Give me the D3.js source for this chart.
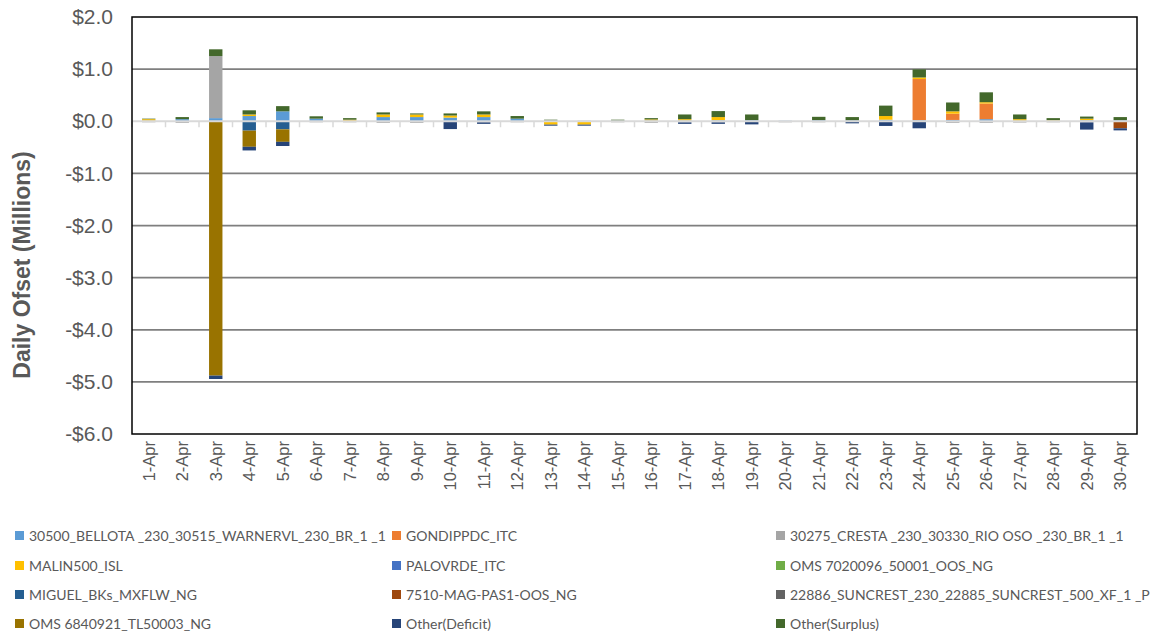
<!DOCTYPE html>
<html>
<head>
<meta charset="utf-8">
<script src="https://cdn.jsdelivr.net/npm/d3@7"></script>
<style>
  html, body { margin: 0; padding: 0; background: #ffffff; }
  svg { display: block; }
</style>
</head>
<body>
<svg id="chart" width="1151" height="635"></svg>
<script>
// ---------- DATA ----------
const dates = ["1-Apr","2-Apr","3-Apr","4-Apr","5-Apr","6-Apr","7-Apr","8-Apr","9-Apr","10-Apr",
  "11-Apr","12-Apr","13-Apr","14-Apr","15-Apr","16-Apr","17-Apr","18-Apr","19-Apr","20-Apr",
  "21-Apr","22-Apr","23-Apr","24-Apr","25-Apr","26-Apr","27-Apr","28-Apr","29-Apr","30-Apr"];

const seriesNames = [
  "30500_BELLOTA _230_30515_WARNERVL_230_BR_1 _1",
  "GONDIPPDC_ITC",
  "30275_CRESTA  _230_30330_RIO OSO _230_BR_1 _1",
  "MALIN500_ISL",
  "PALOVRDE_ITC",
  "OMS 7020096_50001_OOS_NG",
  "MIGUEL_BKs_MXFLW_NG",
  "7510-MAG-PAS1-OOS_NG",
  "22886_SUNCREST_230_22885_SUNCREST_500_XF_1 _P",
  "OMS 6840921_TL50003_NG",
  "Other(Deficit)",
  "Other(Surplus)"
];

const seriesColors = ["#5B9BD5","#ED7D31","#A5A5A5","#FFC000","#4472C4","#70AD47",
  "#255E91","#9E480E","#636363","#997300","#264478","#43682B"];

// values in $ millions, one per day
const bellota   = [0.01,0.04,0.06,0.10,0.19,0.05,0,0.08,0.08,0.07, 0.08,0.05,0.01,0.01,0.01,0.015,0.015,0.02,0.02,0.01, 0.02,0.015,0.03,0.02,0.025,0.04,0.01,0.01,0.02,0.02];
const gondippdc = [0,0,0,0,0,0,0,0,0,0, 0,0,0,0,0,0,0,0,0,0, 0,0,0,0.79,0.12,0.30,0,0,0,0];
const cresta    = [-0.02,-0.03,1.19,0,0,-0.02,-0.02,-0.03,-0.03,0, -0.02,-0.02,0,0,-0.02,-0.03,-0.02,-0.02,0,-0.02, -0.02,-0.01,-0.01,0,-0.03,-0.03,-0.025,-0.02,-0.02,0];
const malin     = [0.03,0,0,0.03,0,0,0.03,0.05,0.05,0.04, 0.05,0,-0.065,-0.065,0,0.02,0.025,0.06,0,0, 0,0,0.07,0.03,0.045,0.025,0.03,0.01,0.03,0];
const palovrde  = [0,0,0,0,0,0,0,0,0,0, 0,0,0,0,0,0,0,0,0,0, 0,0,0,0,0,0,0,0,0,0];
const oms7020   = [0,0,0,0,0,0,0,0,0,0, 0,0,0,0,0,0,0,0,0,0, 0,0,0,0,0,0,0,0,0,0];
const miguel    = [0,0,0,-0.18,-0.155,0,0,0,0,0, 0,0,0,0,0,0,0,0,0,0, 0,0,0,0,0,0,0,0,0,0];
const mag7510   = [0,0,0,0,0,0,0,0,0,0, 0,0,0,0,0,0,0,0,0,0, 0,0,0,0,0,0,0,0,0,-0.135];
const suncrest  = [0,0,0,0,0,0,0,0,0,0, 0,0,0,0,0,0,0,0,0,0, 0,0,0,0,0,0,0,0,0,0];
const oms6840   = [0,0,-4.88,-0.31,-0.24,0,0,0,0,0, 0,0,0,0,0,0,0,0,0,0, 0,0,0,0,0,0,0,0,0,0];
const deficit   = [0,0,-0.065,-0.07,-0.08,0,0,0,0,-0.15, -0.03,0,-0.02,-0.02,0,0,-0.03,-0.03,-0.06,0, 0,-0.03,-0.08,-0.135,0,0,0,0,-0.14,-0.04];
const surplus   = [0.01,0.04,0.13,0.08,0.10,0.045,0.03,0.04,0.02,0.04, 0.06,0.05,0.02,0,0.02,0.025,0.09,0.115,0.11,0, 0.065,0.065,0.20,0.155,0.17,0.19,0.09,0.04,0.04,0.06];

const seriesValues = [bellota, gondippdc, cresta, malin, palovrde, oms7020, miguel, mag7510, suncrest, oms6840, deficit, surplus];

const yTicks = [2,1,0,-1,-2,-3,-4,-5,-6];
const yTitle = "Daily Ofset (Millions)";

// ---------- LAYOUT ----------
const svg = d3.select("#chart");
const plot = { left: 132, right: 1137, top: 17, bottom: 434 };
const labelColor = "#595959";

const x = d3.scaleBand().domain(dates).range([plot.left, plot.right]).paddingInner(0.6).paddingOuter(0.3);
const y = d3.scaleLinear().domain([-6, 2]).range([plot.bottom, plot.top]);

const keys = seriesNames.map((d, i) => "s" + i);
const rows = dates.map((d, j) => {
  const r = { date: d };
  keys.forEach((k, i) => { r[k] = seriesValues[i][j]; });
  return r;
});
const stacked = d3.stack().keys(keys).offset(d3.stackOffsetDiverging)(rows);

// gridlines
svg.append("g").selectAll("line")
  .data(yTicks.filter(t => t !== 0 && t !== 2 && t !== -6))
  .join("line")
  .attr("x1", plot.left).attr("x2", plot.right)
  .attr("y1", d => y(d)).attr("y2", d => y(d))
  .attr("stroke", "#7f7f7f").attr("stroke-width", 1.75);

// bars
svg.append("g").selectAll("g")
  .data(stacked)
  .join("g")
  .attr("fill", (s, i) => seriesColors[i])
  .selectAll("rect")
  .data(s => s.filter(p => p[1] - p[0] !== 0))
  .join("rect")
  .attr("x", p => x(p.data.date))
  .attr("width", x.bandwidth())
  .attr("y", p => y(Math.max(p[0], p[1])))
  .attr("height", p => Math.abs(y(p[0]) - y(p[1])));

// zero axis line and ticks between categories
svg.append("line")
  .attr("x1", plot.left).attr("x2", plot.right)
  .attr("y1", y(0)).attr("y2", y(0))
  .attr("stroke", "#d9d9d9").attr("stroke-width", 2);
const bounds = d3.range(dates.length + 1).map(i => plot.left + i * x.step());
svg.append("g").selectAll("line")
  .data(bounds)
  .join("line")
  .attr("x1", d => d).attr("x2", d => d)
  .attr("y1", y(0)).attr("y2", y(0) + 6)
  .attr("stroke", "#d9d9d9").attr("stroke-width", 1.5);

// plot border
svg.append("rect")
  .attr("x", plot.left).attr("y", plot.top)
  .attr("width", plot.right - plot.left).attr("height", plot.bottom - plot.top)
  .attr("fill", "none").attr("stroke", "#000").attr("stroke-width", 1.5);

// y axis
const yAxis = d3.axisLeft(y).tickValues(yTicks).tickSize(0).tickPadding(19)
  .tickFormat(d => (d < 0 ? "-" : "") + "$" + Math.abs(d).toFixed(1));
const ya = svg.append("g").attr("transform", `translate(${plot.left},0)`).call(yAxis);
ya.select(".domain").remove();
ya.selectAll("text").attr("fill", labelColor)
  .style("font-family", "Arial, 'Liberation Sans', sans-serif").style("font-size", "21px");

// x axis labels (rotated)
const xAxis = d3.axisBottom(x).tickSize(0).tickPadding(0);
const xa = svg.append("g").attr("transform", `translate(0,${plot.bottom})`).call(xAxis);
xa.select(".domain").remove();
xa.selectAll("text")
  .attr("fill", labelColor)
  .style("font-family", "Arial, 'Liberation Sans', sans-serif").style("font-size", "16.5px")
  .attr("text-anchor", "end")
  .attr("transform", "rotate(-90)")
  .attr("x", -7).attr("y", 0).attr("dy", "0.35em");

// y title
svg.append("text")
  .attr("transform", `translate(30,265) rotate(-90)`)
  .attr("text-anchor", "middle")
  .attr("fill", labelColor)
  .style("font-family", "Arial, 'Liberation Sans', sans-serif")
  .style("font-size", "23px").style("font-weight", "bold")
  .text(yTitle);

// legend
const legCols = [15, 392, 776];
const legRows = [536, 566, 595, 624];
const leg = svg.append("g").selectAll("g")
  .data(seriesNames)
  .join("g")
  .attr("transform", (d, i) => `translate(${legCols[i % 3]},${legRows[Math.floor(i / 3)]})`);
leg.append("rect").attr("x", 0).attr("y", -5).attr("width", 9).attr("height", 9)
  .attr("fill", (d, i) => seriesColors[i]);
leg.append("text").attr("x", 14).attr("y", 0).attr("dy", "0.35em")
  .attr("fill", labelColor)
  .style("font-family", "Lato, 'Open Sans', sans-serif").style("font-size", "14px")
  .text(d => d);
</script>
</body>
</html>
